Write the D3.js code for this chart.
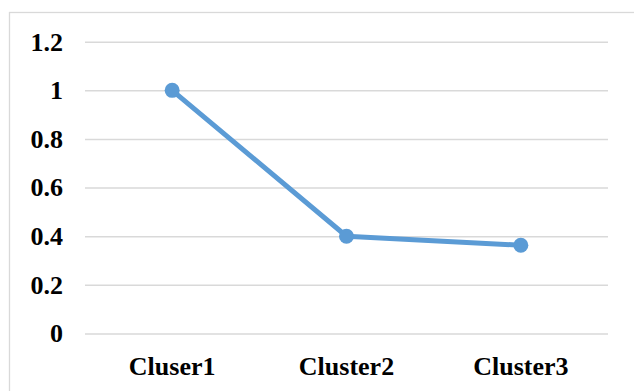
<!DOCTYPE html>
<html>
<head>
<meta charset="utf-8">
<script src="https://cdn.jsdelivr.net/npm/d3@7"></script>
<style>
  body { margin: 0; background: #fff; }
</style>
</head>
<body>
<div id="chart"></div>
<script>
var categories = ["Cluser1", "Cluster2", "Cluster3"];
var values = [1, 0.4, 0.363];
var yTicks = [0, 0.2, 0.4, 0.6, 0.8, 1, 1.2];

var width = 634, height = 391;
var margin = {top: 41.7, right: 26, bottom: 57.5, left: 85};

var svg = d3.select("#chart").append("svg")
    .attr("width", width)
    .attr("height", height);

// outer chart border
svg.append("rect")
    .attr("x", 9.5).attr("y", 12.5)
    .attr("width", 640).attr("height", 400)
    .attr("fill", "none")
    .attr("stroke", "#d9d9d9")
    .attr("stroke-width", 1.3);

var x = d3.scaleBand()
    .domain(categories)
    .range([margin.left, width - margin.right]);

var y = d3.scaleLinear()
    .domain([0, 1.2])
    .range([height - margin.bottom, margin.top]);

var yAxis = svg.append("g")
    .attr("transform", "translate(" + margin.left + ",0)")
    .call(d3.axisLeft(y).tickValues(yTicks).tickSize(-(width - margin.left - margin.right)).tickPadding(22).tickFormat(d3.format("")));

yAxis.select(".domain").remove();
yAxis.selectAll(".tick line").attr("stroke", "#d9d9d9").attr("stroke-width", 1.5);
yAxis.selectAll(".tick text")
    .style("font-family", "'Liberation Serif', 'Times New Roman', serif")
    .style("font-weight", "700")
    .style("font-size", "26px")
    .attr("fill", "#000");

var xAxis = svg.append("g")
    .attr("transform", "translate(0," + (height - margin.bottom) + ")")
    .call(d3.axisBottom(x).tickSize(0).tickPadding(23));

xAxis.select(".domain").remove();
xAxis.selectAll(".tick text")
    .style("font-family", "'Liberation Serif', 'Times New Roman', serif")
    .style("font-weight", "700")
    .style("font-size", "26px")
    .attr("fill", "#000");

var line = d3.line()
    .x(function(d, i) { return x(categories[i]) + x.bandwidth() / 2; })
    .y(function(d) { return y(d); });

svg.append("path")
    .datum(values)
    .attr("d", line)
    .attr("fill", "none")
    .attr("stroke", "#5b9bd5")
    .attr("stroke-width", 5)
    .attr("stroke-linejoin", "round");

svg.selectAll("circle.pt")
    .data(values)
    .enter().append("circle")
      .attr("class", "pt")
      .attr("cx", function(d, i) { return x(categories[i]) + x.bandwidth() / 2; })
      .attr("cy", function(d) { return y(d); })
      .attr("r", 7.5)
      .attr("fill", "#5b9bd5");
</script>
</body>
</html>
